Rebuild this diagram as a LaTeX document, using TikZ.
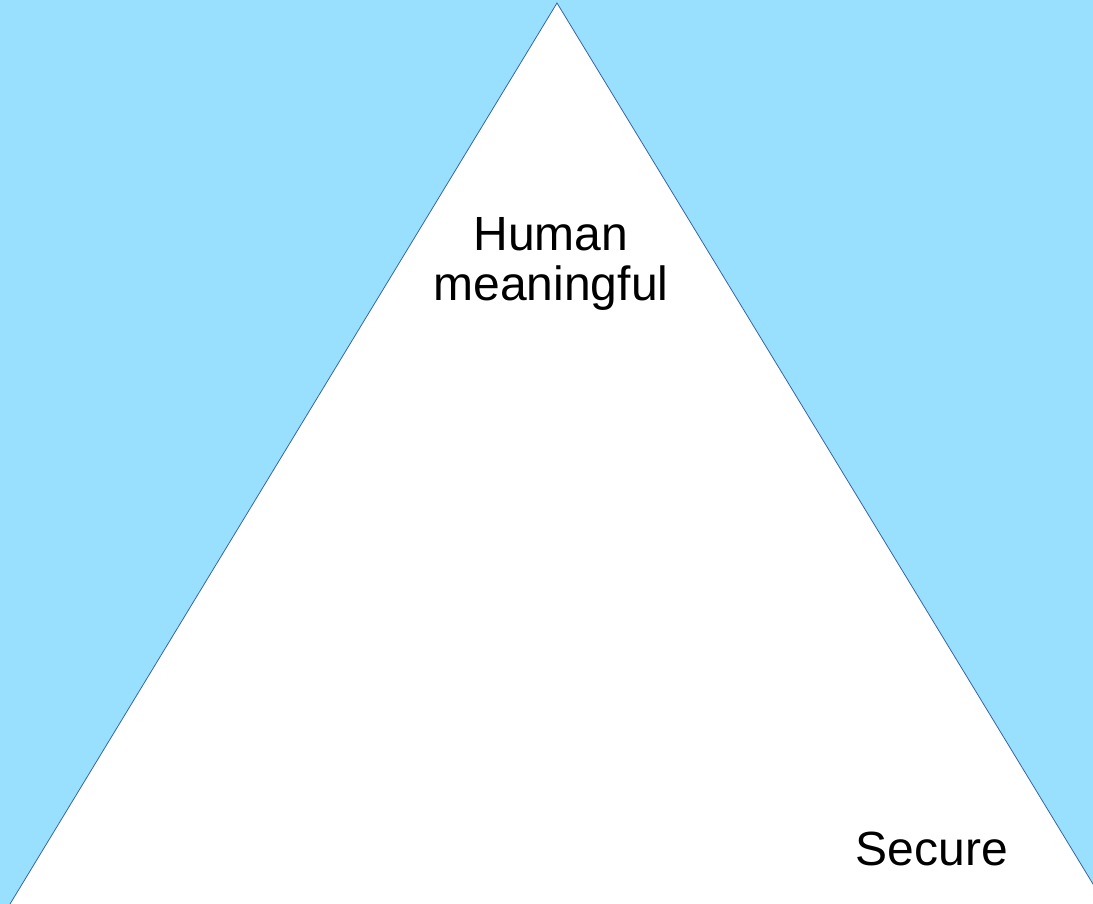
\documentclass[tikz,border=0pt]{standalone}
\usepackage{fontspec}
\setmainfont{Liberation Sans}
\usetikzlibrary{positioning}
\definecolor{sky}{HTML}{99E0FF}
\definecolor{edge}{HTML}{3465A4}
\tikzset{
  lbl/.style={font=\fontsize{48}{50}\selectfont,align=center,inner sep=0pt},
  tri/.style={fill=white,draw=edge,line width=0.8pt,line join=miter},
}
\begin{document}
\begin{tikzpicture}[x=1pt,y=-1pt]
  \useasboundingbox (0,0) rectangle (1093,904);
  % ---------- background ----------
  \fill[sky] (0,0) rectangle (1093,904);
  % ---------- triangle, cut by the frame ----------
  \begin{scope}
    \clip (0,0) rectangle (1093,904);
    \coordinate (apex) at (557,3);
    \coordinate (lowl) at (0.3,920);
    \coordinate (lowr) at (1114.9,920);
    \filldraw[tri] (apex) -- (lowl) -- (lowr) -- cycle;
  \end{scope}
  % ---------- labels ----------
  \node[lbl,anchor=base] (human) at (551,301) {Human\\meaningful};
  \node[lbl,anchor=base] (secure) at (932,865) {Secure};
\end{tikzpicture}
\end{document}
